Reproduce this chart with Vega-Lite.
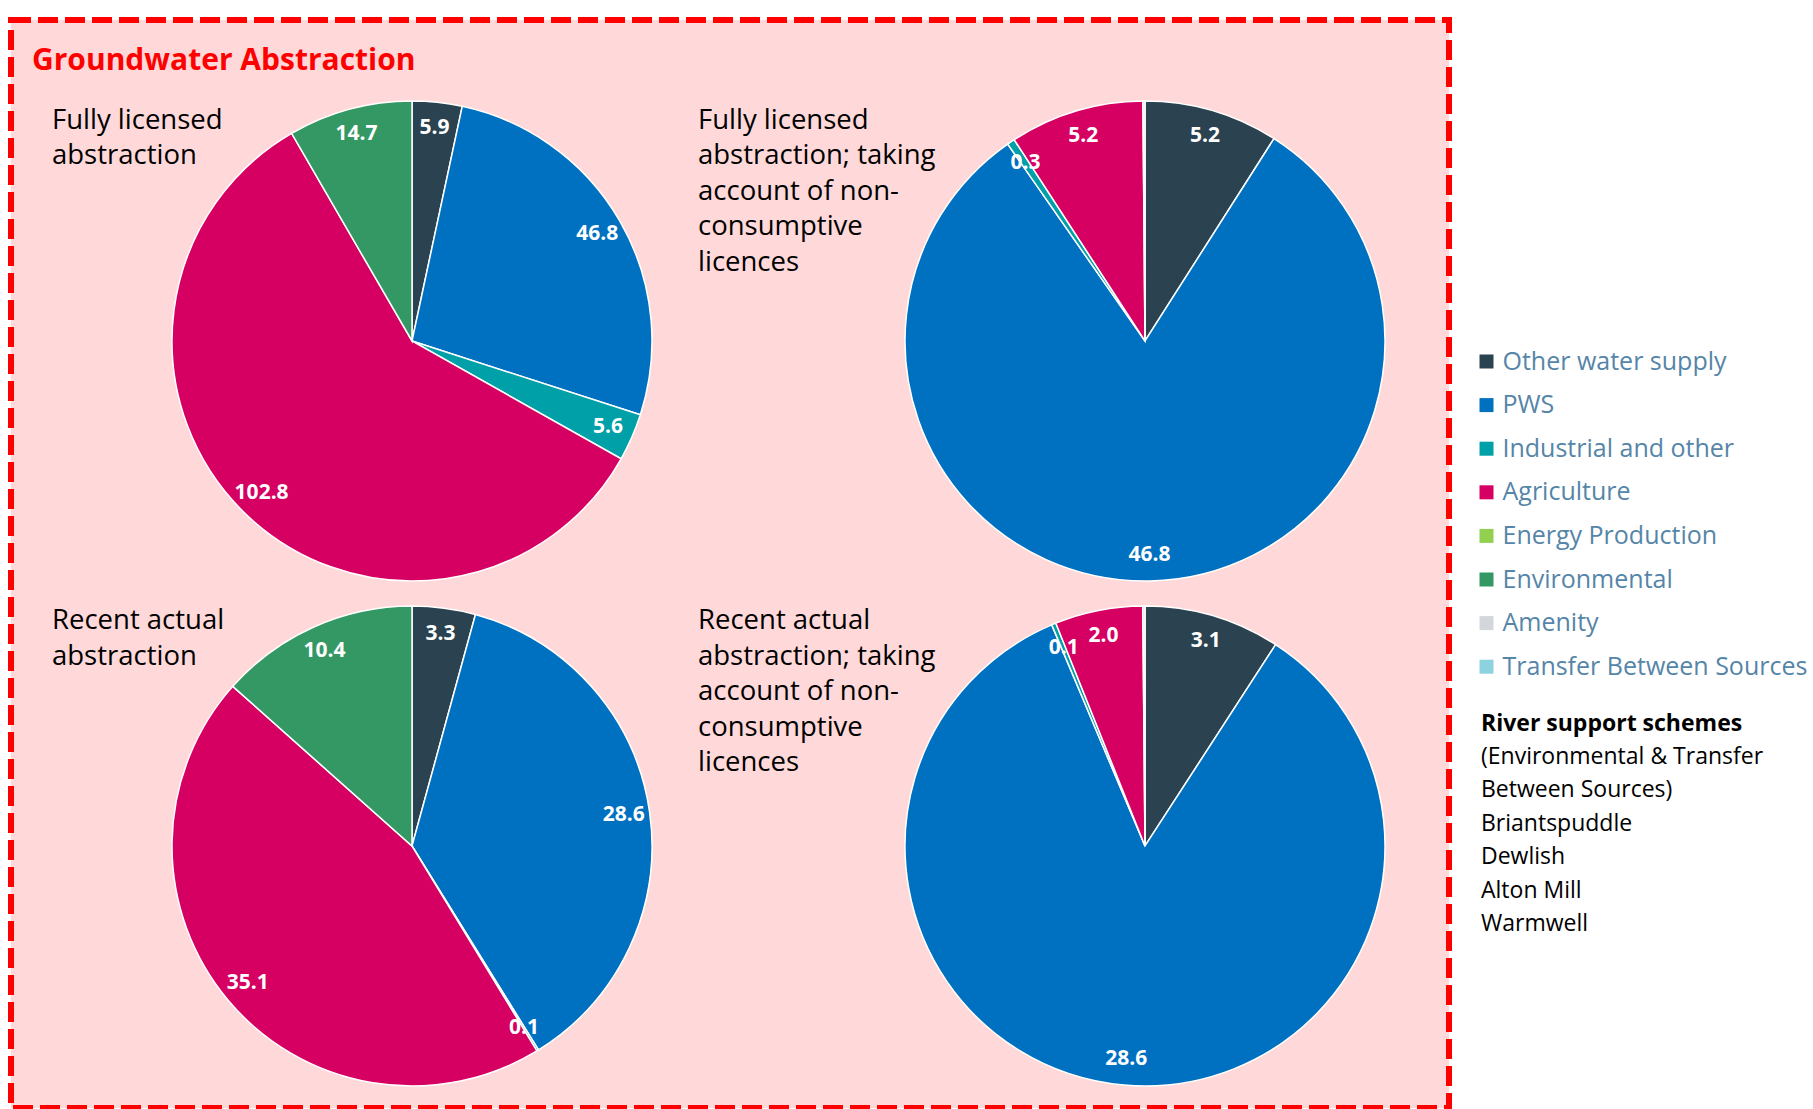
{
  "$schema": "https://vega.github.io/schema/vega-lite/v6.json",
  "width": 1438,
  "height": 1088,
  "autosize": {"type": "none"},
  "padding": {"left": 11, "top": 20, "right": 364, "bottom": 1},
  "background": "#FFFFFF",
  "view": {"fill": "#FFD9D9", "stroke": "#FF0000", "strokeWidth": 6, "strokeDash": [20, 7]},
  "config": {"font": "Open Sans"},
  "title": {
    "text": "Groundwater Abstraction",
    "anchor": "start",
    "frame": "group",
    "orient": "top",
    "offset": -55.5,
    "dx": 21,
    "color": "#FF0000",
    "fontSize": 30,
    "fontWeight": "bold",
    "font": "Open Sans"
  },
  "datasets": {
    "pies": [
      {"measure": "Fully licensed", "basis": "Gross", "category": "Other water supply", "value": 5.9},
      {"measure": "Fully licensed", "basis": "Gross", "category": "PWS", "value": 46.8},
      {"measure": "Fully licensed", "basis": "Gross", "category": "Industrial and other", "value": 5.6},
      {"measure": "Fully licensed", "basis": "Gross", "category": "Agriculture", "value": 102.8},
      {"measure": "Fully licensed", "basis": "Gross", "category": "Environmental", "value": 14.7},
      {"measure": "Fully licensed", "basis": "Net of non-consumptive", "category": "Other water supply", "value": 5.2},
      {"measure": "Fully licensed", "basis": "Net of non-consumptive", "category": "PWS", "value": 46.8},
      {"measure": "Fully licensed", "basis": "Net of non-consumptive", "category": "Industrial and other", "value": 0.3},
      {"measure": "Fully licensed", "basis": "Net of non-consumptive", "category": "Agriculture", "value": 5.2},
      {"measure": "Fully licensed", "basis": "Net of non-consumptive", "category": "Amenity", "value": 0.08},
      {"measure": "Recent actual", "basis": "Gross", "category": "Other water supply", "value": 3.3},
      {"measure": "Recent actual", "basis": "Gross", "category": "PWS", "value": 28.6},
      {"measure": "Recent actual", "basis": "Gross", "category": "Industrial and other", "value": 0.1},
      {"measure": "Recent actual", "basis": "Gross", "category": "Agriculture", "value": 35.1},
      {"measure": "Recent actual", "basis": "Gross", "category": "Environmental", "value": 10.4},
      {"measure": "Recent actual", "basis": "Net of non-consumptive", "category": "Other water supply", "value": 3.1},
      {"measure": "Recent actual", "basis": "Net of non-consumptive", "category": "PWS", "value": 28.6},
      {"measure": "Recent actual", "basis": "Net of non-consumptive", "category": "Industrial and other", "value": 0.1},
      {"measure": "Recent actual", "basis": "Net of non-consumptive", "category": "Agriculture", "value": 2.0},
      {"measure": "Recent actual", "basis": "Net of non-consumptive", "category": "Amenity", "value": 0.05}
    ],
    "titles": [
      {"measure": "Fully licensed", "basis": "Gross", "title": "Fully licensed\nabstraction"},
      {"measure": "Fully licensed", "basis": "Net of non-consumptive", "title": "Fully licensed\nabstraction; taking\naccount of non-\nconsumptive\nlicences"},
      {"measure": "Recent actual", "basis": "Gross", "title": "Recent actual\nabstraction"},
      {"measure": "Recent actual", "basis": "Net of non-consumptive", "title": "Recent actual\nabstraction; taking\naccount of non-\nconsumptive\nlicences"}
    ],
    "schemes": [
      {"scheme": "(Environmental & Transfer"},
      {"scheme": "Between Sources)"},
      {"scheme": "Briantspuddle"},
      {"scheme": "Dewlish"},
      {"scheme": "Alton Mill"},
      {"scheme": "Warmwell"}
    ]
  },
  "resolve": {"scale": {"x": "independent", "y": "independent"}},
  "layer": [
    {
      "data": {"name": "pies"},
      "transform": [
        {"stack": "value", "groupby": ["measure", "basis"], "offset": "normalize", "as": ["t0", "t1"]}
      ],
      "mark": {"type": "arc", "radius": 240, "stroke": "#FFFFFF", "strokeWidth": 1.5},
      "encoding": {
        "x": {"field": "basis", "type": "nominal", "scale": {"type": "point", "domain": ["Gross", "Net of non-consumptive"], "range": [401, 1134], "padding": 0}, "axis": null},
        "y": {"field": "measure", "type": "nominal", "scale": {"type": "point", "domain": ["Fully licensed", "Recent actual"], "range": [321, 826], "padding": 0}, "axis": null},
        "theta": {"field": "t0", "type": "quantitative", "scale": {"domain": [0, 1]}, "stack": null},
        "theta2": {"field": "t1"},
        "color": {
          "field": "category",
          "type": "nominal",
          "scale": {
            "domain": ["Other water supply", "PWS", "Industrial and other", "Agriculture", "Energy Production", "Environmental", "Amenity", "Transfer Between Sources"],
            "range": ["#2B4251", "#0070C0", "#00A0A8", "#D60062", "#92D050", "#349864", "#D3D6DA", "#8DD3DF"]
          },
          "legend": {
            "orient": "none",
            "legendX": 1463,
            "legendY": 329,
            "title": null,
            "symbolType": "square",
            "symbolSize": 196,
            "symbolStrokeWidth": 0,
            "labelFont": "Open Sans",
            "labelFontSize": 25,
            "labelColor": "#5585A8",
            "labelOffset": 3.5,
            "labelLimit": 400,
            "rowPadding": 17.6,
            "padding": 0
          }
        }
      }
    },
    {
      "data": {"name": "pies"},
      "transform": [
        {"stack": "value", "groupby": ["measure", "basis"], "offset": "normalize", "as": ["t0", "t1"]},
        {"filter": "datum.value >= 0.1"},
        {"calculate": "(datum.t0 + datum.t1) / 2", "as": "mid"}
      ],
      "mark": {"type": "text", "radius": 214, "color": "#FFFFFF", "fontWeight": "bold", "fontSize": 21, "align": "center", "baseline": "middle", "font": "Open Sans"},
      "encoding": {
        "x": {"field": "basis", "type": "nominal", "scale": {"type": "point", "domain": ["Gross", "Net of non-consumptive"], "range": [401, 1134], "padding": 0}, "axis": null},
        "y": {"field": "measure", "type": "nominal", "scale": {"type": "point", "domain": ["Fully licensed", "Recent actual"], "range": [321, 826], "padding": 0}, "axis": null},
        "theta": {"field": "mid", "type": "quantitative", "scale": {"domain": [0, 1]}},
        "text": {"field": "value", "type": "quantitative", "format": ".1f"}
      }
    },
    {
      "data": {"name": "titles"},
      "mark": {"type": "text", "align": "left", "baseline": "alphabetic", "fontSize": 27.5, "lineHeight": 35.5, "lineBreak": "\n", "color": "#000000", "font": "Open Sans"},
      "encoding": {
        "x": {"field": "basis", "type": "nominal", "scale": {"type": "point", "domain": ["Gross", "Net of non-consumptive"], "range": [41, 687], "padding": 0}, "axis": null},
        "y": {"field": "measure", "type": "nominal", "scale": {"type": "point", "domain": ["Fully licensed", "Recent actual"], "range": [108.5, 609], "padding": 0}, "axis": null},
        "text": {"field": "title", "type": "nominal"}
      }
    },
    {
      "data": {"name": "schemes"},
      "mark": {"type": "point", "opacity": 0},
      "encoding": {
        "shape": {
          "field": "scheme",
          "type": "nominal",
          "scale": {"domain": ["(Environmental & Transfer", "Between Sources)", "Briantspuddle", "Dewlish", "Alton Mill", "Warmwell"]},
          "legend": {
            "orient": "none",
            "legendX": 1470,
            "legendY": 692.5,
            "title": "River support schemes",
            "titleFont": "Open Sans",
            "titleFontSize": 23,
            "titleFontWeight": "bold",
            "titleColor": "#000000",
            "titleBaseline": "top",
            "titlePadding": 9.5,
            "titleLimit": 400,
            "labelFont": "Open Sans",
            "labelFontSize": 23,
            "labelColor": "#000000",
            "labelLimit": 400,
            "labelOffset": -23,
            "symbolSize": 0,
            "symbolOpacity": 0,
            "symbolStrokeWidth": 0,
            "rowPadding": 9.5,
            "padding": 0
          }
        }
      }
    }
  ]
}
